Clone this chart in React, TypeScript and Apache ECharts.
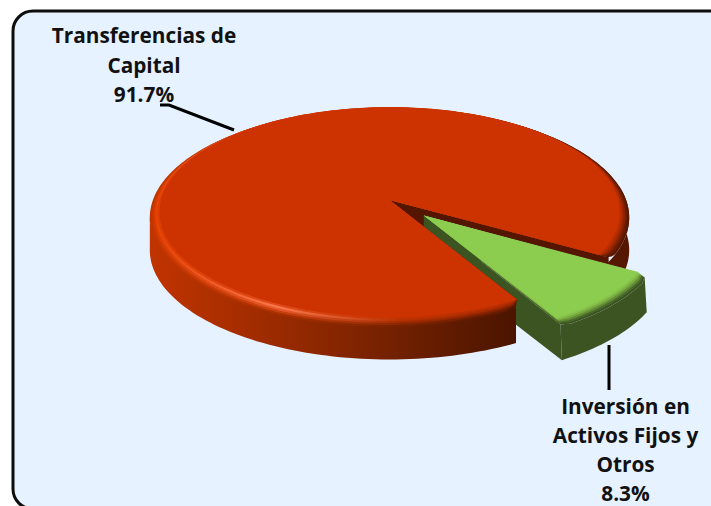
import React, { useEffect, useRef } from "react";
import * as echarts from "echarts";

const sliceNames = ["Transferencias de Capital", "Inversión en Activos Fijos y Otros"];
const sliceValues = [91.7, 8.3];
const labelLinesA = ["Transferencias de", "Capital", "91.7%"];
const labelLinesB = ["Inversión en", "Activos Fijos y", "Otros", "8.3%"];

const W = 711, H = 506;
const CX = 389.5, CY = 200, A = 238, B = 107.9, K = 0.119;
const GREEN_START = 30;
const RIM_DY = 4.5;

const rad = (d: number) => (d * Math.PI) / 180;
function proj(u: number, v: number, dy = 0): number[] {
  const w = 1 + K * v;
  return [CX + (A * u) / w, CY - (B * v) / w + dy];
}
function pt(theta: number, r: number, ox: number, oy: number, dy = 0) {
  return proj(ox + r * Math.cos(rad(theta)), oy - r * Math.sin(rad(theta)), dy);
}

function layerPoly(a0: number, a1: number, rFlat: number, rOuter: number, s0: number, ox: number, oy: number, delta: number, fMin = 0) {
  const pts: number[][] = [pt(0, 0, ox, oy)];
  const n = Math.max(24, Math.round((a1 - a0) / 1.2));
  for (let i = 0; i <= n; i++) {
    const th = a0 + ((a1 - a0) * i) / n;
    const d = Math.min(th - a0, a1 - th);
    const f = d >= delta ? 1 : Math.max(fMin, Math.sqrt(Math.max(0, 1 - (1 - d / delta) ** 2)));
    const s = s0 * f;
    pts.push(pt(th, rFlat + (rOuter - rFlat) * s, ox, oy, RIM_DY * s));
  }
  return pts;
}
function sidePoly(a0: number, a1: number, r: number, dyTop: number, dyBot: number, ox: number, oy: number) {
  const top: number[][] = [], bot: number[][] = [];
  const n = Math.max(8, Math.round((a1 - a0) / 1.5));
  for (let i = 0; i <= n; i++) {
    const th = a0 + ((a1 - a0) * i) / n;
    top.push(pt(th, r, ox, oy, dyTop));
    bot.push(pt(th, r, ox, oy, dyBot));
  }
  return top.concat(bot.reverse());
}
const poly = (points: number[][], fill: any, z2: number) => ({
  type: "polygon", z2, shape: { points }, style: { fill, stroke: "none" }, silent: true,
});
const BAND_X = [150, 280, 400, 519, 630];
const bandGrad = (colors: string[]) => ({
  type: "linear", x: 150, y: 0, x2: 630, y2: 0, global: true,
  colorStops: colors.map((color, i) => ({ offset: (BAND_X[i] - 150) / 480, color })),
});
const SIDE_BAND = ["#c03400", "#9a2a00", "#702000", "#4a1400", "#561700"];
// bevel colours across x, outer rim to flat top
const RED_BEVEL = [
  ["#c03400", "#a83000", "#762100", "#4e1500", "#581800"],
  ["#c83600", "#c8400f", "#8a2600", "#601a00", "#6a1c00"],
  ["#d83a00", "#e8582a", "#a42c00", "#801f00", "#882200"],
  ["#e64000", "#f87a50", "#b83200", "#a02800", "#a42a00"],
  ["#dc3a00", "#e04a1a", "#c43200", "#b82e00", "#ba2e00"],
  ["#cc3300", "#cc3300", "#cc3300", "#cc3300", "#cc3300"],
];
const GREEN_STEPS = ["#3c5422", "#4a682a", "#628c36", "#78ac40", "#86c24a", "#8ccc4e"];

function renderPiece(params: any, api: any) {
  const idx = params.dataIndex;
  const total = sliceValues.reduce((a, b) => a + b, 0);
  const sweep = (api.value(0) / total) * 360;
  const children: any[] = [];
  if (idx === 1) {
    const a0 = GREEN_START, a1 = GREEN_START + sweep;
    const mid = rad((a0 + a1) / 2);
    const ox = 0.2 * Math.cos(mid), oy = -0.2 * Math.sin(mid);
    const rO = 0.99, rF = 0.955, depth = 38, delta = 2.5, fMin = 0.75;
    const top = layerPoly(a0, a1, rF, rO, 1, ox, oy, delta, fMin).slice(1);
    const bottom: number[][] = [];
    for (let i = 0; i <= 24; i++) bottom.push(pt(a1 - ((a1 - a0) * i) / 24, rO, ox, oy, depth));
    children.push(poly(top.concat(bottom), "#3c5422", 3));
    children.push(poly([pt(0, 0, ox, oy), top[top.length - 1], pt(a1, rO, ox, oy, depth), pt(0, 0, ox, oy, depth)], "#3c5422", 4));
    GREEN_STEPS.forEach((c, i) => {
      const s0 = 1 - i / (GREEN_STEPS.length - 1);
      children.push(poly(layerPoly(a0, a1, rF, rO, s0, ox, oy, delta, fMin), c, 5 + i));
    });
  } else {
    const a0 = GREEN_START + (sliceValues[1] / total) * 360;
    const a1 = a0 + sweep;
    const rO = 1, rF = 0.96, depth = 37;
    children.push(poly([pt(0, 0, 0, 0), pt(a1, rO, 0, 0), pt(a1, rO, 0, 0, depth), pt(0, 0, 0, 0, depth)], "#541600", 1));
    children.push(poly(sidePoly(a1 - 40, a1 + 2, rO, RIM_DY, depth, 0, 0), "#561700", 2));
    children.push(poly(sidePoly(a0 + 1.7, 174, rO, RIM_DY - 3, depth, 0, 0), bandGrad(SIDE_BAND), 12));
    RED_BEVEL.forEach((colors, i) => {
      const s0 = 1 - i / (RED_BEVEL.length - 1);
      children.push(poly(layerPoly(a0, a1, rF, rO, s0, 0, 0, 5), bandGrad(colors), 13 + i));
    });
  }
  return { type: "group", children };
}

const textEls = (lines: string[], x: number, yStart: number, step: number) =>
  lines.map((text, i) => ({
    type: "text", z: 100, x, y: yStart + i * step,
    style: { text, fill: "#111111", font: "bold 20.8px 'Open Sans'", textAlign: "center", textVerticalAlign: "middle" },
  }));

export default function App() {
  const ref = useRef<HTMLDivElement>(null);
  useEffect(() => {
    document.body.style.margin = "0";
    const chart = echarts.init(ref.current!, null, { renderer: "svg" });
    chart.setOption({
      animation: false,
      backgroundColor: "#ffffff",
      graphic: [
        { type: "rect", z: 0, shape: { x: 13, y: 11, width: 760, height: 498, r: 20 }, style: { fill: "#e6f2ff", stroke: "#0d0d0d", lineWidth: 3 } },
        { type: "polyline", z: 100, shape: { points: [[160, 105], [169, 105], [234, 130]] }, style: { stroke: "#000000", lineWidth: 3, fill: "none" } },
        { type: "line", z: 100, shape: { x1: 609, y1: 345, x2: 609, y2: 390 }, style: { stroke: "#000000", lineWidth: 3 } },
        ...textEls(labelLinesA, 144, 35, 29.5),
        ...textEls(labelLinesB, 625.5, 406, 29),
      ],
      series: [
        {
          type: "custom",
          coordinateSystem: "none",
          silent: true,
          renderItem: renderPiece,
          data: sliceValues.map((value, i) => ({ name: sliceNames[i], value })),
        },
      ],
    });
    return () => chart.dispose();
  }, []);
  return <div ref={ref} style={{ width: W, height: H, overflow: "hidden" }} />;
}
